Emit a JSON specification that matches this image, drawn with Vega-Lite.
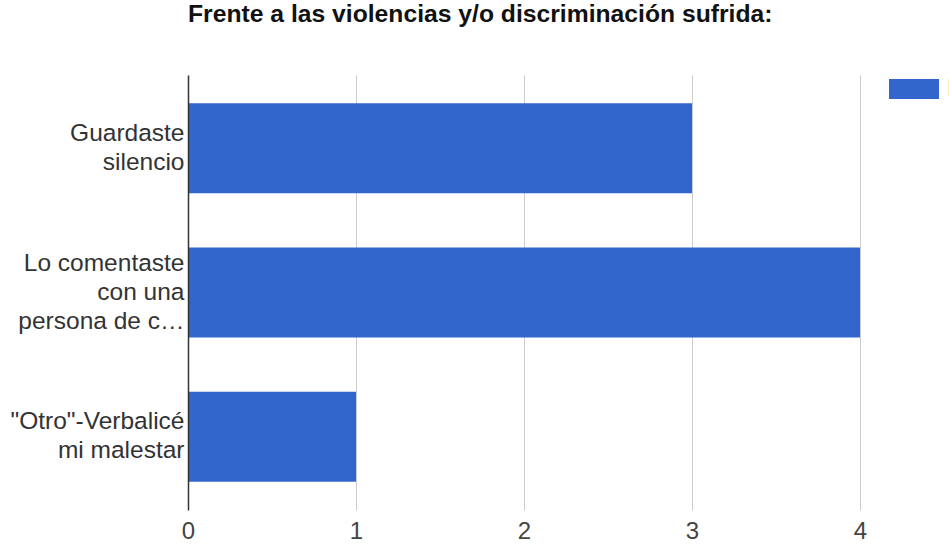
{
  "$schema": "https://vega.github.io/schema/vega-lite/v6.json",
  "width": 672,
  "height": 435,
  "autosize": {"type": "none"},
  "padding": {"left": 188, "top": 75, "right": 89, "bottom": 34},
  "background": "white",
  "title": {
    "text": "Frente a las violencias y/o discriminación sufrida:",
    "anchor": "start",
    "frame": "group",
    "font": "Liberation Sans",
    "fontSize": 24.7,
    "fontWeight": "bold",
    "color": "#111111",
    "offset": 37
  },
  "data": {
    "values": [
      {"respuesta": "Guardaste|silencio", "cantidad": 3, "serie": "Recuento"},
      {"respuesta": "Lo comentaste|con una|persona de c…", "cantidad": 4, "serie": "Recuento"},
      {"respuesta": "\"Otro\"-Verbalicé|mi malestar", "cantidad": 1, "serie": "Recuento"}
    ]
  },
  "mark": {"type": "bar", "color": "#3366CC"},
  "encoding": {
    "y": {
      "field": "respuesta",
      "type": "nominal",
      "sort": null,
      "scale": {"paddingInner": 0.375, "paddingOuter": 0.195},
      "axis": {
        "title": null,
        "labelExpr": "split(datum.label, '|')",
        "labelFont": "Liberation Sans",
        "labelFontSize": 24.5,
        "labelLineHeight": 29,
        "labelColor": "#333333",
        "labelPadding": 4,
        "labelLimit": 300,
        "labelOffset": {"condition": {"test": "indexof(datum.label, 'persona') >= 0", "value": -29}, "value": -14.5},
        "ticks": false,
        "domain": true,
        "domainColor": "#333333",
        "domainWidth": 1.5,
        "grid": false,
        "zindex": 1
      }
    },
    "x": {
      "field": "cantidad",
      "type": "quantitative",
      "scale": {"domain": [0, 4], "nice": false},
      "axis": {
        "title": null,
        "values": [0, 0.5, 1, 1.5, 2, 2.5, 3, 3.5, 4],
        "format": "d",
        "labelExpr": "datum.value % 1 === 0 ? format(datum.value, 'd') : ''",
        "labelFont": "Liberation Sans",
        "labelFontSize": 24,
        "labelColor": "#444444",
        "labelPadding": 9,
        "labelFlush": false,
        "domain": false,
        "ticks": false,
        "grid": true,
        "gridColor": {"condition": {"test": "datum.value % 1 === 0", "value": "#cccccc"}, "value": "#ebebeb"},
        "gridWidth": 1
      }
    },
    "color": {
      "field": "serie",
      "type": "nominal",
      "scale": {"range": ["#3366CC"]},
      "legend": {
        "title": null,
        "orient": "none",
        "legendX": 701,
        "legendY": -11,
        "symbolType": "M-1,-0.4H1V0.4H-1Z",
        "symbolSize": 2500,
        "symbolStrokeWidth": 0,
        "labelFont": "Liberation Sans",
        "labelFontSize": 24.5,
        "labelColor": "#333333",
        "labelOffset": 8,
        "padding": 0
      }
    }
  },
  "config": {"view": {"stroke": null}}
}
